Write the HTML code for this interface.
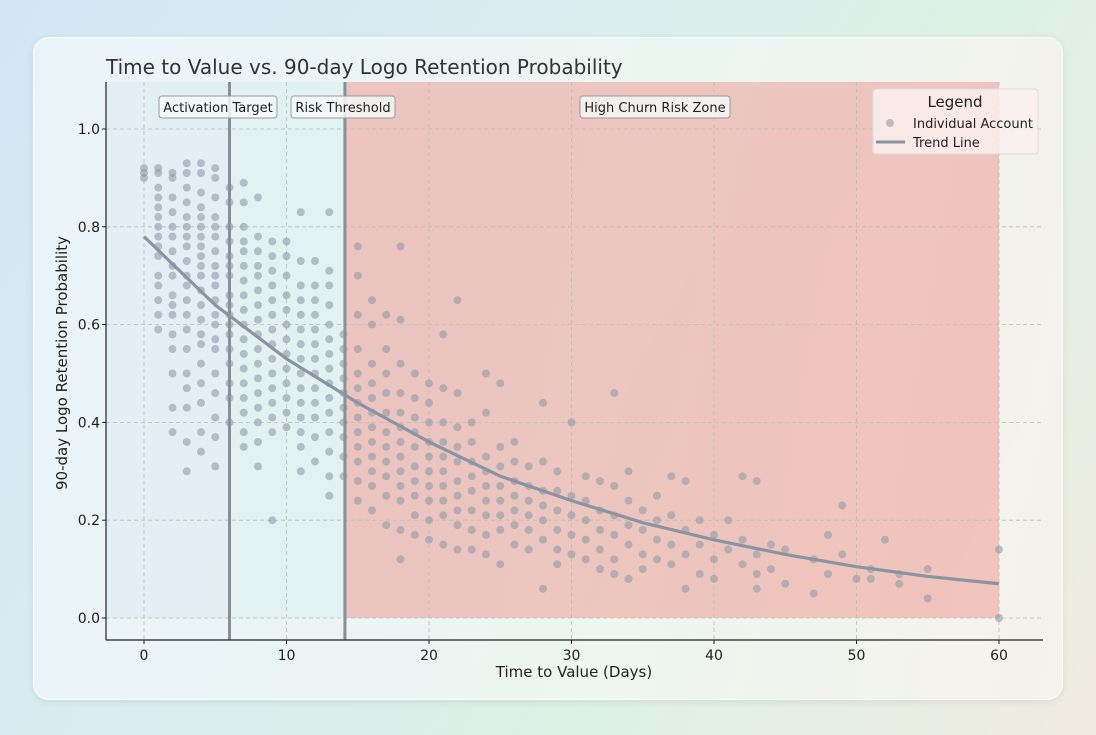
<!DOCTYPE html>
<html><head><meta charset="utf-8"><style>
html,body{margin:0;padding:0;width:1096px;height:735px;overflow:hidden;font-family:"Liberation Sans","DejaVu Sans",sans-serif;}
body{background:linear-gradient(120deg,#d4e6f3 0%,#d6eef0 35%,#dcf0e4 65%,#f1ece2 100%);}
#card{position:absolute;left:33px;top:37px;width:1028px;height:661px;border-radius:16px;background:linear-gradient(100deg,rgba(236,244,250,0.92),rgba(238,246,240,0.92) 60%,rgba(246,242,236,0.92));box-shadow:0 2px 8px rgba(0,0,0,0.08);border:1px solid rgba(255,255,255,0.9);}
svg{position:absolute;left:0;top:0;}
</style></head><body>
<div id="card"></div>
<svg id="chart" width="1096" height="735" font-family="'DejaVu Sans','Liberation Sans',sans-serif"></svg>
<script>
const xTicks=[0,10,20,30,40,50,60];
const yTicks=[0.0,0.2,0.4,0.6,0.8,1.0];
const activationDay=6;
const riskDay=14.1;
const trendX=[0,5,10,15,20,25,30,35,40,45,50,55,60];
const trendY=[0.78,0.64,0.53,0.44,0.36,0.29,0.24,0.195,0.16,0.13,0.105,0.085,0.07];
const days=[0,1,2,3,4,5,6,7,8,9,10,11,12,13,14,15,16,17,18,19,20,21,22,23,24,25,26,27,28,29,30,31,32,33,34,35,36,37,38,39,40,41,42,43,44,45,47,48,49,50,51,52,53,55,60];
const values=[
[0.92,0.91,0.90],
[0.92,0.91,0.88,0.86,0.84,0.82,0.80,0.78,0.76,0.74,0.70,0.68,0.65,0.62,0.59],
[0.91,0.90,0.86,0.83,0.80,0.78,0.75,0.72,0.70,0.66,0.64,0.62,0.58,0.55,0.50,0.43,0.38],
[0.93,0.91,0.88,0.85,0.82,0.80,0.78,0.76,0.73,0.70,0.68,0.65,0.62,0.59,0.55,0.50,0.47,0.43,0.36,0.30],
[0.93,0.91,0.87,0.84,0.82,0.80,0.78,0.76,0.74,0.72,0.70,0.67,0.64,0.61,0.58,0.56,0.52,0.48,0.44,0.38,0.34],
[0.92,0.90,0.86,0.82,0.80,0.78,0.75,0.72,0.70,0.68,0.65,0.62,0.60,0.57,0.55,0.50,0.46,0.41,0.37,0.31],
[0.88,0.85,0.80,0.77,0.74,0.72,0.70,0.66,0.64,0.62,0.60,0.58,0.55,0.52,0.48,0.45,0.40],
[0.89,0.85,0.80,0.77,0.75,0.72,0.69,0.66,0.63,0.60,0.57,0.54,0.51,0.48,0.45,0.42,0.38,0.35],
[0.86,0.78,0.75,0.72,0.70,0.67,0.64,0.61,0.58,0.55,0.52,0.49,0.46,0.43,0.40,0.36,0.31],
[0.77,0.74,0.71,0.68,0.65,0.62,0.59,0.56,0.53,0.50,0.47,0.44,0.41,0.38,0.20],
[0.77,0.74,0.70,0.66,0.63,0.60,0.57,0.54,0.51,0.48,0.45,0.42,0.39],
[0.83,0.73,0.68,0.65,0.62,0.59,0.56,0.53,0.50,0.47,0.44,0.41,0.38,0.35,0.30],
[0.73,0.68,0.65,0.62,0.59,0.56,0.53,0.50,0.47,0.44,0.41,0.37,0.32],
[0.83,0.71,0.68,0.64,0.60,0.57,0.54,0.51,0.48,0.45,0.42,0.38,0.34,0.29,0.25],
[0.58,0.55,0.52,0.49,0.46,0.43,0.40,0.37,0.33,0.29],
[0.76,0.70,0.62,0.55,0.50,0.47,0.44,0.41,0.38,0.35,0.32,0.28,0.24],
[0.65,0.60,0.52,0.48,0.45,0.42,0.39,0.36,0.33,0.30,0.27,0.22],
[0.62,0.55,0.50,0.46,0.42,0.38,0.35,0.32,0.29,0.25,0.19],
[0.76,0.61,0.52,0.46,0.42,0.39,0.36,0.33,0.30,0.27,0.24,0.18,0.12],
[0.50,0.45,0.41,0.38,0.35,0.31,0.28,0.25,0.21,0.17],
[0.48,0.44,0.40,0.36,0.33,0.30,0.27,0.24,0.20,0.16],
[0.58,0.47,0.40,0.36,0.33,0.30,0.27,0.24,0.21,0.15],
[0.65,0.46,0.39,0.35,0.32,0.28,0.25,0.22,0.19,0.14],
[0.40,0.36,0.32,0.29,0.26,0.22,0.18,0.14],
[0.50,0.42,0.33,0.30,0.27,0.24,0.21,0.17,0.13],
[0.48,0.35,0.31,0.27,0.24,0.21,0.18,0.11],
[0.36,0.32,0.28,0.25,0.22,0.19,0.15],
[0.31,0.27,0.24,0.21,0.18,0.14],
[0.44,0.32,0.26,0.23,0.20,0.16,0.06],
[0.30,0.26,0.22,0.18,0.14,0.11],
[0.40,0.25,0.21,0.17,0.13],
[0.29,0.24,0.20,0.16,0.12],
[0.28,0.22,0.18,0.14,0.10],
[0.46,0.27,0.21,0.17,0.12,0.09],
[0.30,0.24,0.19,0.15,0.08],
[0.22,0.18,0.13,0.10],
[0.25,0.20,0.16,0.12],
[0.29,0.21,0.15,0.11],
[0.28,0.18,0.13,0.06],
[0.20,0.15,0.09],
[0.17,0.12,0.08],
[0.20,0.14],
[0.29,0.16,0.11],
[0.28,0.13,0.09,0.06],
[0.15,0.10],
[0.14,0.07],
[0.12,0.05],
[0.17,0.09],
[0.23,0.13],
[0.08],
[0.10,0.08],
[0.16],
[0.09,0.07],
[0.10,0.04],
[0.14,0.0]
];
const NS='http://www.w3.org/2000/svg';
const svg=document.getElementById('chart');
const L=106,R=1043,T=82,B=640;
const sx=v=>144+v*(999-144)/60;
const sy=v=>618-v*489;
function mk(tag,attrs,parent){const e=document.createElementNS(NS,tag);for(const k in attrs)e.setAttribute(k,attrs[k]);(parent||svg).appendChild(e);return e;}
let z=mk('rect',{x:L,y:T,width:sx(activationDay)-L,height:sy(0)-T,fill:'rgba(215,235,245,0.45)'});


z=mk('rect',{x:sx(activationDay),y:T,width:sx(riskDay)-sx(activationDay),height:sy(0)-T,fill:'rgba(215,240,240,0.45)'});


z=mk('rect',{x:sx(riskDay),y:T,width:sx(60)-sx(riskDay),height:sy(0)-T,fill:'rgba(238,140,130,0.45)'});


xTicks.forEach(t=>{const g=mk('line',{x1:sx(t),x2:sx(t),y1:T,y2:B,stroke:'#bbb','stroke-dasharray':'4,3','stroke-width':0.8});

});
yTicks.forEach(t=>{const g=mk('line',{x1:L,x2:R,y1:sy(t),y2:sy(t),stroke:'#bbb','stroke-dasharray':'4,3','stroke-width':0.8});

});
days.forEach((d,i)=>values[i].forEach(v=>{const c=mk('circle',{cx:sx(d),cy:sy(v),r:4,fill:'rgba(145,155,168,0.6)'});

}));
let vl=mk('line',{x1:sx(activationDay),x2:sx(activationDay),y1:T,y2:B,stroke:'#8a9096','stroke-width':3});


vl=mk('line',{x1:sx(riskDay),x2:sx(riskDay),y1:T,y2:B,stroke:'#8a9096','stroke-width':3});


const tl=mk('path',{d:trendX.map((x,i)=>(i?'L':'M')+sx(x)+','+sy(trendY[i])).join(''),fill:'none',stroke:'#8a94a3','stroke-width':3.2});


let ax=mk('line',{x1:L,x2:L,y1:T,y2:B,stroke:'#222','stroke-width':1.2});


ax=mk('line',{x1:L,x2:R,y1:B,y2:B,stroke:'#222','stroke-width':1.2});


xTicks.forEach(t=>{mk('line',{x1:sx(t),x2:sx(t),y1:B,y2:B+4,stroke:'#222'});
const tx=mk('text',{x:sx(t),y:B+20,'text-anchor':'middle','font-size':14,fill:'#222'});tx.textContent=t;

});
yTicks.forEach(t=>{mk('line',{x1:L-4,x2:L,y1:sy(t),y2:sy(t),stroke:'#222'});
const tx=mk('text',{x:L-6,y:sy(t)+5,'text-anchor':'end','font-size':14,fill:'#222'});tx.textContent=t.toFixed(1);

});
let t=mk('text',{x:574,y:677,'text-anchor':'middle','font-size':15,fill:'#222'});t.textContent='Time to Value (Days)';


t=mk('text',{x:0,y:0,'text-anchor':'middle','font-size':15,fill:'#222',transform:'translate(67,363) rotate(-90)'});t.textContent='90-day Logo Retention Probability';


t=mk('text',{x:106,y:74,'font-size':20,fill:'#333'});t.textContent='Time to Value vs. 90-day Logo Retention Probability';


function label(cx,txt,name,w){const r=mk('rect',{x:cx-w/2,y:96,width:w,height:22,rx:3,fill:'rgba(245,248,248,0.85)',stroke:'#999'});


const tx=mk('text',{x:cx,y:112,'text-anchor':'middle','font-size':13,fill:'#222'});tx.textContent=txt;

}
label(218,'Activation Target','activation-target-label',118);
label(343,'Risk Threshold','risk-threshold-label',104);
label(655,'High Churn Risk Zone','high-churn-risk-label',150);
const lg=mk('g',{});


mk('rect',{x:873,y:89,width:165,height:65,rx:3,fill:'rgba(250,240,238,0.85)',stroke:'#ddd'},lg);
t=mk('text',{x:955,y:107,'text-anchor':'middle','font-size':15,fill:'#222'},lg);t.textContent='Legend';


mk('circle',{cx:890,cy:123,r:4,fill:'rgba(145,155,168,0.6)'},lg);
t=mk('text',{x:913,y:128,'font-size':13,fill:'#222'},lg);t.textContent='Individual Account';


mk('line',{x1:876,x2:905,y1:142,y2:142,stroke:'#8a94a3','stroke-width':3},lg);
t=mk('text',{x:913,y:147,'font-size':13,fill:'#222'},lg);t.textContent='Trend Line';


</script>
</body></html>
